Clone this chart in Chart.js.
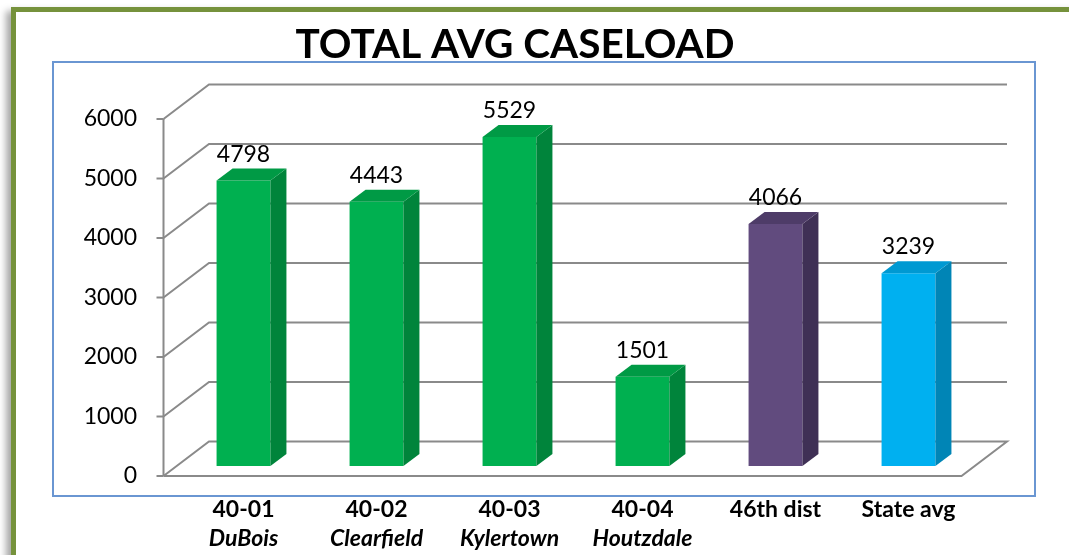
<!DOCTYPE html>
<html>
<head>
<meta charset="utf-8">
<script src="https://cdn.jsdelivr.net/npm/chart.js@4.4.1/dist/chart.umd.min.js"></script>
<style>
  html, body { margin: 0; padding: 0; background: #fff; overflow: hidden; }
  #marco { position: absolute; left: 11px; top: 7px; width: 1100px; height: 600px; border: 5px solid #76923c; box-shadow: -5px 4px 7px rgba(0,0,0,0.35); background: #fff; }
  #caja { position: absolute; left: 52px; top: 61px; width: 984px; height: 436px; box-sizing: border-box; border: 2px solid #6a96d2; }
  #wrap { position: absolute; left: 0; top: 0; width: 1069px; height: 555px; }
</style>
</head>
<body>
<div id="marco"></div>
<div id="caja"></div>
<div id="wrap"><canvas id="grafico" width="1069" height="555"></canvas></div>
<script>
// datos del grafico
const titulo = 'TOTAL AVG CASELOAD';
const categorias = ['40-01', '40-02', '40-03', '40-04', '46th dist', 'State avg'];
const localidades = ['DuBois', 'Clearfield', 'Kylertown', 'Houtzdale', '', ''];
const valores = [4798, 4443, 5529, 1501, 4066, 3239];
const marcasY = [0, 1000, 2000, 3000, 4000, 5000, 6000];

// colores de cada cara
const coloresFrente = ['#00b050', '#00b050', '#00b050', '#00b050', '#614b7e', '#00b0f0'];
const coloresLado = ['#00843b', '#00843b', '#00843b', '#00843b', '#3f3055', '#0085b6'];
const coloresTapa = ['#009a45', '#009a45', '#009a45', '#009a45', '#4e3c68', '#0099d2'];

// desplazamientos de la perspectiva (respecto del plano de las barras)
const FRENTE = { dx: -13.5, dy: 10 };
const FONDO = { dx: 32, dy: -24.5 };
const PROF = { dx: 16, dy: -12 };

const fuente = 'Lato';

const efecto3D = {
    id: 'efecto3D',
    beforeDatasetsDraw(chart) {
        const { ctx, chartArea: a, scales: { y } } = chart;
        ctx.save();
        ctx.strokeStyle = '#8a8a8a';
        ctx.lineWidth = 2;
        marcasY.forEach(v => {
            const py = y.getPixelForValue(v);
            ctx.beginPath();
            ctx.moveTo(a.left + FRENTE.dx, py + FRENTE.dy);
            ctx.lineTo(a.left + FONDO.dx, py + FONDO.dy);
            ctx.lineTo(a.right + FONDO.dx, py + FONDO.dy);
            if (v === 0) {
                // piso
                ctx.lineTo(a.right + FRENTE.dx, py + FRENTE.dy);
                ctx.lineTo(a.left + FRENTE.dx, py + FRENTE.dy);
            }
            ctx.stroke();
            ctx.beginPath();
            ctx.moveTo(a.left + FRENTE.dx - 7, py + FRENTE.dy);
            ctx.lineTo(a.left + FRENTE.dx, py + FRENTE.dy);
            ctx.stroke();
        });
        // eje vertical
        const y0 = y.getPixelForValue(marcasY[0]);
        const y1 = y.getPixelForValue(marcasY[marcasY.length - 1]);
        ctx.beginPath();
        ctx.moveTo(a.left + FRENTE.dx, y1 + FRENTE.dy);
        ctx.lineTo(a.left + FRENTE.dx, y0 + FRENTE.dy);
        ctx.stroke();
        ctx.restore();
    },
    afterDatasetsDraw(chart) {
        const ctx = chart.ctx;
        const meta = chart.getDatasetMeta(0);
        ctx.save();
        meta.data.forEach((barra, i) => {
            const { x, y, width, base } = barra.getProps(['x', 'y', 'width', 'base'], true);
            const izq = x - width / 2;
            const der = x + width / 2;
            // lado
            ctx.fillStyle = coloresLado[i];
            ctx.beginPath();
            ctx.moveTo(der, y);
            ctx.lineTo(der + PROF.dx, y + PROF.dy);
            ctx.lineTo(der + PROF.dx, base + PROF.dy);
            ctx.lineTo(der, base);
            ctx.closePath();
            ctx.fill();
            // tapa
            ctx.fillStyle = coloresTapa[i];
            ctx.beginPath();
            ctx.moveTo(izq, y);
            ctx.lineTo(izq + PROF.dx, y + PROF.dy);
            ctx.lineTo(der + PROF.dx, y + PROF.dy);
            ctx.lineTo(der, y);
            ctx.closePath();
            ctx.fill();
            // etiqueta de valor
            ctx.fillStyle = '#000';
            ctx.font = '23px ' + fuente;
            ctx.textAlign = 'center';
            ctx.textBaseline = 'alphabetic';
            ctx.fillText(String(valores[i]), x, y - 19);
        });
        ctx.restore();
    },
    afterDraw(chart) {
        const ctx = chart.ctx;
        ctx.save();
        ctx.fillStyle = '#000';
        ctx.font = 'bold 40.5px ' + fuente;
        ctx.textAlign = 'center';
        ctx.textBaseline = 'alphabetic';
        ctx.fillText(titulo, 515, 58);
        ctx.restore();
    }
};

const ctx = document.getElementById('grafico').getContext('2d');
new Chart(ctx, {
    type: 'bar',
    data: {
        labels: categorias,
        datasets: [{
            data: valores,
            backgroundColor: coloresFrente,
            borderWidth: 0,
            barPercentage: 0.405,
            categoryPercentage: 1
        }]
    },
    options: {
        responsive: false,
        animation: false,
        devicePixelRatio: 1,
        layout: { padding: { top: 109, right: 94, bottom: 0, left: 0 } },
        plugins: {
            legend: { display: false },
            tooltip: { enabled: false },
            title: { display: false }
        },
        scales: {
            y: {
                min: 0,
                max: 6000,
                grid: { display: false, drawTicks: false },
                border: { display: false },
                afterFit: s => { s.width = 177; },
                afterBuildTicks: s => { s.ticks = marcasY.map(v => ({ value: v })); },
                ticks: {
                    color: '#000',
                    font: { family: fuente, size: 23 },
                    padding: 40,
                    labelOffset: FRENTE.dy,
                    callback: v => String(v)
                }
            },
            x: {
                weight: 0,
                grid: { display: false, drawTicks: false },
                border: { display: false },
                afterFit: s => { s.height = 56; },
                ticks: {
                    color: '#000',
                    font: { family: fuente, size: 23, weight: 'bold' },
                    padding: 30,
                    autoSkip: false,
                    maxRotation: 0
                }
            },
            x2: {
                type: 'category',
                position: 'bottom',
                weight: 1,
                labels: localidades,
                offset: true,
                grid: { display: false, drawTicks: false },
                border: { display: false },
                afterFit: s => { s.height = 33; },
                ticks: {
                    color: '#000',
                    font: { family: fuente, size: 23, weight: 'bold', style: 'italic' },
                    padding: 3,
                    autoSkip: false,
                    maxRotation: 0
                }
            }
        }
    },
    plugins: [efecto3D]
});
</script>
</body>
</html>
